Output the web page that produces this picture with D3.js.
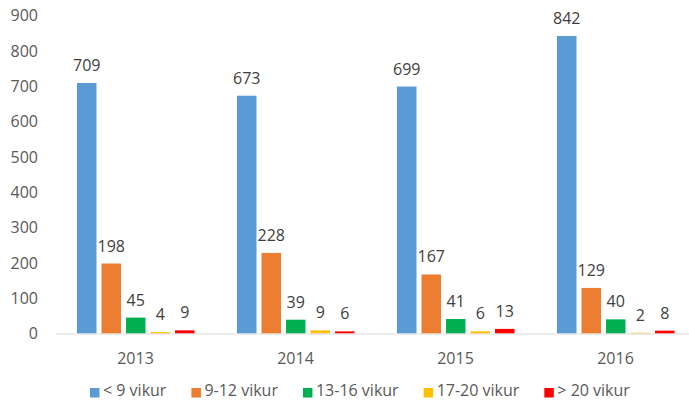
<!DOCTYPE html>
<html>
<head>
<meta charset="utf-8">
<script src="https://cdn.jsdelivr.net/npm/d3@7"></script>
<style>
    body { margin: 0; background: #fff; }
    svg { display: block; font-family: 'Open Sans', sans-serif; }
</style>
</head>
<body>
<div id="chart"></div>
<script>
'use strict';

var years = ['2013', '2014', '2015', '2016'];
var groups = ['< 9 vikur', '9-12 vikur', '13-16 vikur', '17-20 vikur', '> 20 vikur'];
var colors = ['#5B9BD5', '#ED7D31', '#00B050', '#FFC000', '#FF0000'];
var under9 = [709, 673, 699, 842];
var w9to12 = [198, 228, 167, 129];
var w13to16 = [45, 39, 41, 40];
var w17to20 = [4, 9, 6, 2];
var over20 = [9, 6, 13, 8];
var yTicks = [0, 100, 200, 300, 400, 500, 600, 700, 800, 900];

var series = [under9, w9to12, w13to16, w17to20, over20];

var width = 689,
    height = 400;

var svg = d3.select('#chart').append('svg')
    .attr('width', width)
    .attr('height', height);

var x = d3.scaleBand()
    .domain(years)
    .range([55.5, 695.5])
    .padding(0);

var xInner = d3.scaleBand()
    .domain(groups)
    .range([21.5, 139])
    .paddingInner(0.204)
    .paddingOuter(0);

var y = d3.scaleLinear()
    .domain([0, 900])
    .range([333.5, 15.5]);

// y tick labels, no axis line
svg.append('g').selectAll('text')
    .data(yTicks)
    .enter()
    .append('text')
    .attr('x', 38)
    .attr('y', function(d) { return y(d); })
    .attr('dy', '0.36em')
    .attr('text-anchor', 'end')
    .attr('font-size', 16)
    .attr('fill', '#595959')
    .text(function(d) { return d; });

// bars
var rows = [];
years.forEach(function(yr, i) {
    groups.forEach(function(g, j) {
        rows.push({year: yr, group: g, value: series[j][i], color: colors[j]});
    });
});

var bar = svg.append('g').selectAll('g')
    .data(rows)
    .enter()
    .append('g')
    .attr('transform', function(d) {
        return 'translate(' + (x(d.year) + xInner(d.group)) + ',0)';
    });

bar.append('rect')
    .attr('x', 0)
    .attr('y', function(d) { return y(d.value); })
    .attr('width', xInner.bandwidth())
    .attr('height', function(d) { return y(0) - y(d.value); })
    .attr('fill', function(d) { return d.color; });

bar.append('text')
    .attr('x', xInner.bandwidth() / 2)
    .attr('y', function(d) { return y(d.value) - 12; })
    .attr('text-anchor', 'middle')
    .attr('font-size', 16)
    .attr('fill', '#404040')
    .text(function(d) { return d.value; });

// x axis
var xAxis = svg.append('g')
    .attr('transform', 'translate(0,' + y(0) + ')')
    .call(d3.axisBottom(x).tickSize(0).tickPadding(0));
xAxis.select('.domain').attr('stroke', '#D9D9D9').attr('stroke-width', 1);
xAxis.selectAll('text')
    .attr('y', 30.5)
    .attr('dy', null)
    .attr('font-family', 'Open Sans, sans-serif')
    .attr('font-size', 16)
    .attr('fill', '#595959');

// legend
var legend = svg.append('g').attr('transform', 'translate(90,395.5)');
var lx = 0;
groups.forEach(function(g, i) {
    var item = legend.append('g').attr('transform', 'translate(' + lx + ',0)');
    item.append('rect')
        .attr('x', 0)
        .attr('y', -7.5)
        .attr('width', 9.5)
        .attr('height', 9.5)
        .attr('fill', colors[i]);
    var t = item.append('text')
        .attr('x', 13)
        .attr('y', 0)
        .attr('font-size', 16)
        .attr('fill', '#595959')
        .text(g);
    lx += 13 + t.node().getComputedTextLength() + 25;
});
</script>
</body>
</html>
